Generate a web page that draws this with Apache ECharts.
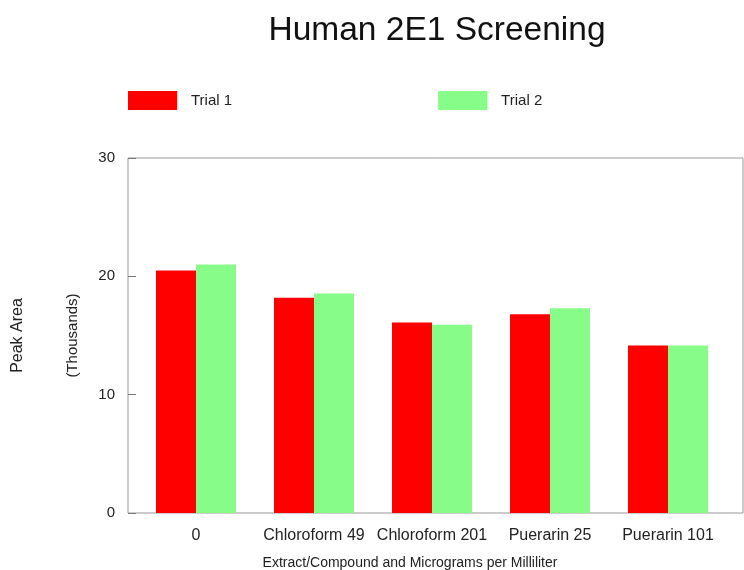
<!DOCTYPE html>
<html>
<head>
<meta charset="utf-8">
<script src="https://cdn.jsdelivr.net/npm/echarts@6/dist/echarts.min.js"></script>
<style>
  html, body { margin: 0; padding: 0; background: #fff; }
  #chart { width: 744px; height: 570px; }
</style>
</head>
<body>
<div id="chart"></div>
<script>
// data (peak area in thousands)
var categories = ['0', 'Chloroform 49', 'Chloroform 201', 'Puerarin 25', 'Puerarin 101'];
var trial1 = [20.5, 18.2, 16.1, 16.8, 14.15];
var trial2 = [21.0, 18.55, 15.9, 17.3, 14.15];
var yTicks = [0, 10, 20, 30];

var myChart = echarts.init(document.getElementById('chart'));
var font = 'Liberation Sans, Arial, sans-serif';

myChart.setOption({
  animation: false,
  backgroundColor: '#fff',
  textStyle: { fontFamily: font },
  title: {
    text: 'Human 2E1 Screening',
    left: 432,
    textAlign: 'center',
    top: 9,
    textStyle: { fontSize: 33.5, fontWeight: 'normal', color: '#111', fontFamily: font }
  },
  legend: {
    left: 128,
    top: 91,
    padding: 0,
    itemWidth: 49,
    itemHeight: 19,
    itemGap: 206,
    icon: 'rect',
    textStyle: { fontSize: 15, color: '#222', padding: [0, 0, 0, 9], fontFamily: font },
    data: ['Trial 1', 'Trial 2']
  },
  grid: [
    // frame box
    { left: 128, right: 1, top: 158, bottom: 57, outerBoundsMode: 'none', show: true, borderColor: '#999', borderWidth: 1, backgroundColor: 'transparent' },
    // bars
    { left: 137, width: 590, top: 158, bottom: 57, outerBoundsMode: 'none' }
  ],
  xAxis: [
    { gridIndex: 0, type: 'value', show: false, min: 0, max: 1 },
    {
      gridIndex: 1,
      type: 'category',
      data: categories,
      axisLine: { show: false },
      axisTick: { show: false },
      axisLabel: { fontSize: 16, color: '#222', margin: 15, interval: 0, fontFamily: font },
      name: 'Extract/Compound and Micrograms per Milliliter',
      nameLocation: 'middle',
      nameGap: 43,
      nameTextStyle: { fontSize: 14, color: '#222', padding: [0, 44, 0, 0], fontFamily: font }
    }
  ],
  yAxis: [
    {
      gridIndex: 0, type: 'value', min: 0, max: 30,
      axisLine: { show: false }, axisTick: { show: false }, axisLabel: { show: false }, splitLine: { show: false },
      name: 'Peak Area',
      nameLocation: 'middle',
      nameGap: 102,
      nameTextStyle: { fontSize: 16, color: '#222', fontFamily: font }
    },
    {
      gridIndex: 1,
      type: 'value',
      min: yTicks[0],
      max: yTicks[yTicks.length - 1],
      interval: 10,
      offset: 9,
      axisLine: { show: false },
      axisTick: { show: true, inside: true, length: 8, lineStyle: { color: '#777' } },
      axisLabel: { fontSize: 15, color: '#222', margin: 13, fontFamily: font },
      splitLine: { show: false },
      name: '(Thousands)',
      nameLocation: 'middle',
      nameGap: 48,
      nameTextStyle: { fontSize: 15, color: '#222', fontFamily: font }
    }
  ],
  series: [
    {
      name: 'Trial 1',
      type: 'bar',
      xAxisIndex: 1,
      yAxisIndex: 1,
      data: trial1,
      barWidth: 40,
      barGap: '0%',
      itemStyle: { color: '#ff0000' }
    },
    {
      name: 'Trial 2',
      type: 'bar',
      xAxisIndex: 1,
      yAxisIndex: 1,
      data: trial2,
      barWidth: 40,
      barGap: '0%',
      itemStyle: { color: '#88fc88' }
    }
  ]
});
</script>
</body>
</html>
